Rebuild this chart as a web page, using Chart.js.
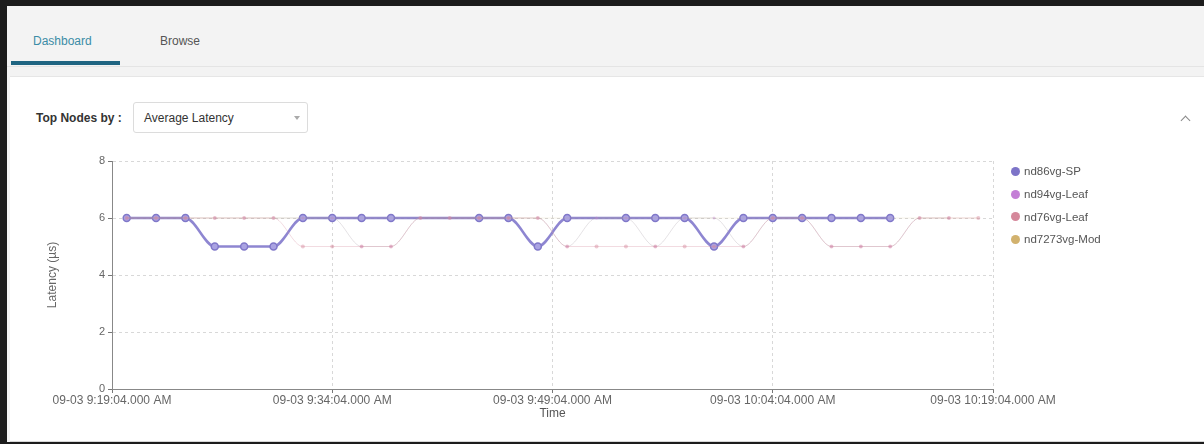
<!DOCTYPE html>
<html>
<head>
<meta charset="utf-8">
<script src="https://cdn.jsdelivr.net/npm/chart.js@4.4.0/dist/chart.umd.min.js"></script>
<style>
  html, body { margin: 0; padding: 0; }
  body { width: 1204px; height: 444px; background: #1c1c1c; position: relative; overflow: hidden;
         font-family: "Liberation Sans", Arial, sans-serif; }
  #page { position: absolute; left: 7px; top: 6px; width: 1197px; height: 436px; background: #f3f3f3; }
  .tab { position: absolute; top: 28px; font-size: 12px; }
  #tabDash { left: 26px; color: #3b8ca6; }
  #tabBrowse { left: 153px; color: #555; }
  #tabLine { position: absolute; left: 4px; top: 55px; width: 109px; height: 4px; background: #1f6582; }
  #sep { position: absolute; left: 0; top: 60px; width: 1197px; height: 1px; background: #e4e4e4; }
  #card { position: absolute; left: 3px; top: 70px; width: 1194px; height: 364px; background: #fff;
          border-top: 1px solid #e6e6e6; border-bottom: 1px solid #d6d6d6; }
  #topLabel { position: absolute; left: 26px; top: 34px; font-size: 12px; font-weight: bold; color: #333; }
  #select { position: absolute; left: 123px; top: 25px; width: 175px; height: 31px; border: 1px solid #dcdcdc;
            border-radius: 3px; box-sizing: border-box; }
  #select span { position: absolute; left: 10px; top: 8px; font-size: 12px; color: #333; }
  #caret { position: absolute; left: 160px; top: 13px; width: 0; height: 0; border-left: 3px solid transparent;
           border-right: 3px solid transparent; border-top: 4px solid #aaa; }
  #chev { position: absolute; left: 1172px; top: 40px; width: 6px; height: 6px; border-left: 1px solid #888;
          border-top: 1px solid #888; transform: rotate(45deg); }
  #chartBox { position: absolute; left: 23px; top: 69px; width: 1050px; height: 285px; }
  #legend { position: absolute; left: 1001px; top: 83px; font-size: 11.5px; color: #555; }
  .lg { height: 22.7px; display: flex; align-items: center; }
  .dot { width: 9px; height: 9px; border-radius: 50%; margin-right: 4px; }
</style>
</head>
<body>
<div id="page">
  <div class="tab" id="tabDash">Dashboard</div>
  <div class="tab" id="tabBrowse">Browse</div>
  <div id="tabLine"></div>
  <div id="sep"></div>
  <div id="card">
    <div id="topLabel">Top Nodes by :</div>
    <div id="select"><span>Average Latency</span><div id="caret"></div></div>
    <div id="chev"></div>
    <div id="chartBox"><canvas id="latencyChart" width="1050" height="285"></canvas></div>
    <div id="legend"></div>
  </div>
</div>
<script>
// x values are minutes after 09-03 9:19:04 AM
const tickMinutes = [0, 15, 30, 45, 60];
const tickLabels = ['09-03 9:19:04.000 AM', '09-03 9:34:04.000 AM', '09-03 9:49:04.000 AM',
                    '09-03 10:04:04.000 AM', '09-03 10:19:04.000 AM'];

const seriesNames = ['nd86vg-SP', 'nd94vg-Leaf', 'nd76vg-Leaf', 'nd7273vg-Mod'];
const seriesColors = ['#7d74c8', '#c47fd6', '#d5889b', '#d2b26e'];

const spMinutes = [1, 3, 5, 7, 9, 11, 13, 15, 17, 19, 25, 27, 29, 31, 35, 37, 39, 41, 43, 45, 47, 49, 51, 53];
const spValues  = [6, 6, 6, 5, 5, 5, 6, 6, 6, 6, 6, 6, 5, 6, 6, 6, 6, 5, 6, 6, 6, 6, 6, 6];

const leaf94Minutes = [1, 3, 5, 7, 9, 11, 13, 15, 17, 19, 21, 23, 25, 27, 29, 31, 33, 35, 37, 39, 41, 43, 45, 47, 49, 51, 53, 55, 57];
const leaf94Values  = [6, 6, 6, 6, 6, 6, 6, 6, 5, 5, 6, 6, 6, 6, 6, 5, 6, 6, 5, 6, 6, 5, 6, 6, 5, 5, 5, 6, 6];

const leaf76Minutes = [1, 3, 5, 7, 9, 11, 13, 15, 17, 19, 21, 23, 25, 27, 29, 31, 33, 35, 37, 39, 41, 43, 45, 47, 49, 51, 53, 55, 57, 59];
const leaf76Values  = [6, 6, 6, 6, 6, 6, 5, 5, 5, 5, 6, 6, 6, 6, 6, 5, 5, 5, 5, 5, 5, 5, 6, 6, 5, 5, 5, 6, 6, 6];

const modMinutes = [1, 59];
const modValues  = [6, 6];

const toPoints = (xs, ys) => xs.map((x, i) => ({ x: x, y: ys[i] }));

// legend
const legendEl = document.getElementById('legend');
seriesNames.forEach((name, i) => {
    const row = document.createElement('div');
    row.className = 'lg';
    row.innerHTML = '<div class="dot" style="background:' + seriesColors[i] + '"></div>' + name;
    legendEl.appendChild(row);
});

const faint = (hex, a) => {
    const n = parseInt(hex.slice(1), 16);
    return 'rgba(' + (n >> 16) + ',' + ((n >> 8) & 255) + ',' + (n & 255) + ',' + a + ')';
};

const ctx = document.getElementById('latencyChart').getContext('2d');
new Chart(ctx, {
    type: 'line',
    data: {
        datasets: [
            {
                label: seriesNames[3],
                data: toPoints(modMinutes, modValues),
                borderColor: faint(seriesColors[3], 0.15),
                borderWidth: 1,
                pointRadius: 0
            },
            {
                label: seriesNames[2],
                data: toPoints(leaf76Minutes, leaf76Values),
                borderColor: faint(seriesColors[2], 0.3),
                backgroundColor: faint(seriesColors[2], 0.45),
                borderWidth: 1,
                pointRadius: 2,
                pointBorderWidth: 0,
                cubicInterpolationMode: 'monotone'
            },
            {
                label: seriesNames[1],
                data: toPoints(leaf94Minutes, leaf94Values),
                borderColor: 'rgba(170,160,170,0.3)',
                backgroundColor: faint(seriesColors[1], 0.35),
                borderWidth: 1,
                pointRadius: 1.5,
                pointBorderWidth: 0,
                cubicInterpolationMode: 'monotone'
            },
            {
                label: seriesNames[0],
                data: toPoints(spMinutes, spValues),
                borderColor: 'rgba(130,121,204,0.9)',
                backgroundColor: '#aaa3e2',
                pointBorderColor: '#8078c9',
                borderWidth: 2.5,
                pointRadius: 3.5,
                pointBorderWidth: 1.5,
                cubicInterpolationMode: 'monotone'
            }
        ]
    },
    options: {
        responsive: false,
        animation: false,
        layout: {
            padding: { top: 15, right: 90, bottom: 0, left: 0 }
        },
        plugins: {
            legend: { display: false },
            tooltip: { enabled: false }
        },
        scales: {
            x: {
                type: 'linear',
                min: 0,
                max: 60,
                afterBuildTicks: (scale) => {
                    scale.ticks = tickMinutes.map(v => ({ value: v }));
                },
                afterFit: (scale) => { scale.height = 42; },
                ticks: {
                    maxRotation: 0,
                    autoSkip: false,
                    padding: 0,
                    color: '#666',
                    font: { family: 'Liberation Sans', size: 12 },
                    callback: (value) => {
                        const i = tickMinutes.indexOf(value);
                        return i >= 0 ? tickLabels[i] : '';
                    }
                },
                grid: { color: '#d8d8d8', tickColor: '#777', tickLength: 4 },
                border: { color: '#888', width: 1, dash: [3, 3] },
                title: {
                    display: true,
                    text: 'Time',
                    color: '#555',
                    font: { family: 'Liberation Sans', size: 12 },
                    padding: { top: 4, bottom: 10 }
                }
            },
            y: {
                min: 0,
                max: 8,
                afterFit: (scale) => { scale.width = 79; },
                ticks: {
                    stepSize: 2,
                    padding: 3,
                    color: '#666',
                    font: { family: 'Liberation Sans', size: 11 }
                },
                grid: { color: '#d8d8d8', tickColor: '#777', tickLength: 4 },
                border: { color: '#888', width: 1, dash: [3, 3] },
                title: {
                    display: true,
                    text: 'Latency (µs)',
                    color: '#666',
                    font: { family: 'Liberation Sans', size: 12 },
                    padding: { top: 12, bottom: 0 }
                }
            }
        }
    }
});
</script>
</body>
</html>
